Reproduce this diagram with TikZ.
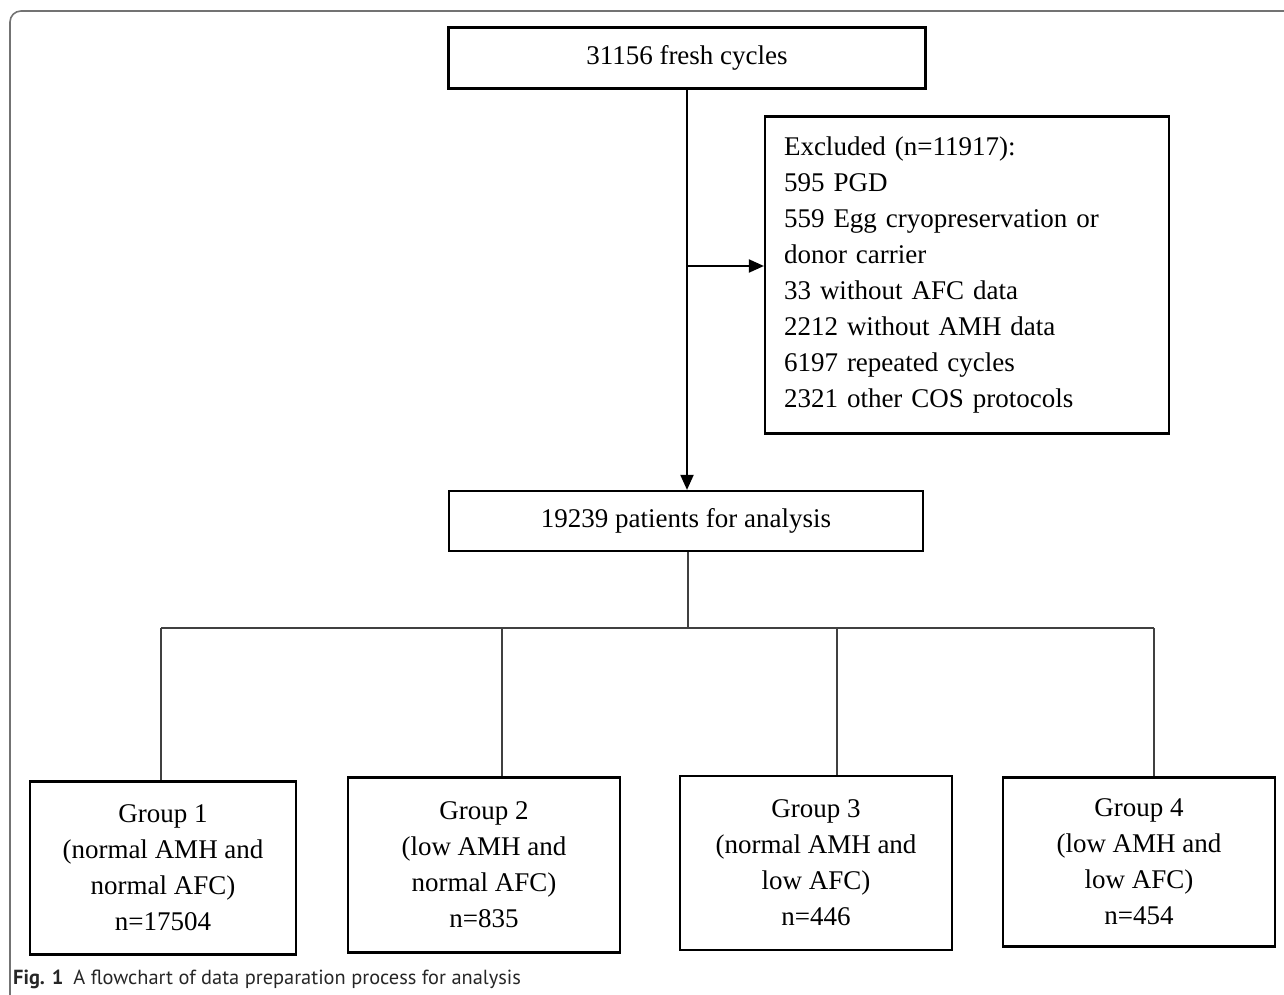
\documentclass[tikz,border=0pt]{standalone}
\usepackage{fontspec}
\setmainfont{Liberation Serif}
\setsansfont{PT Sans}
\usetikzlibrary{arrows.meta}
\begin{document}
\begin{tikzpicture}[
   x=1pt,y=-1pt,
   box/.style={draw,line width=2.2pt,align=center,inner sep=0pt,font=\fontsize{27}{36}\selectfont},
   group/.style={box,minimum width=272pt,minimum height=173pt},
   flow/.style={-{Triangle[length=15pt,width=13pt]},line width=2pt},
   tree/.style={draw=black!75,line width=1.3pt},
   frame/.style={draw=black!55,line width=1.6pt,rounded corners=11pt}]
\useasboundingbox (0,0) rectangle (1284,995);
\draw[frame] (1290,11) -- (10,11) -- (10,1001);
% main column
\node[box,minimum width=477pt,minimum height=61pt] (fresh) at (687,58) {31156 fresh cycles};
\node[box,minimum width=404pt,minimum height=317pt,text width=366pt,align=left] (excl) at (967,275)
  {Excluded (n=11917):\\595 PGD\\559 Egg cryopreservation or\\donor carrier\\33 without AFC data\\2212 without AMH data\\6197 repeated cycles\\2321 other COS protocols};
\node[box,minimum width=474pt,minimum height=60pt] (patients) at (686,521) {19239 patients for analysis};
% groups
\node[group,minimum width=266pt] (g1) at (163,868) {Group 1\\(normal AMH and\\normal AFC)\\n=17504};
\node[group,minimum height=175pt] (g2) at (484,865) {Group 2\\(low AMH and\\normal AFC)\\n=835};
\node[group,minimum height=174pt] (g3) at (816,863) {Group 3\\(normal AMH and\\low AFC)\\n=446};
\node[group,minimum height=169pt] (g4) at (1139,862) {Group 4\\(low AMH and\\low AFC)\\n=454};
\coordinate (split) at (687,266);
\coordinate (bus) at (688,628);
\coordinate (b1) at (161,628);
\coordinate (b2) at (502,628);
\coordinate (b3) at (837,628);
\coordinate (b4) at (1154,628);
\draw[flow] (fresh.south -| split) -- (patients.north -| split);
\draw[flow] (split) -- (excl.west |- split);
\draw[tree] (patients.south -| bus) -- (bus);
\draw[tree] (b1) -- (b4);
\draw[tree] (b1) -- (b1 |- g1.north);
\draw[tree] (b2) -- (b2 |- g2.north);
\draw[tree] (b3) -- (b3 |- g3.north);
\draw[tree] (b4) -- (b4 |- g4.north);
% caption
\node[anchor=base west,inner sep=0pt,text=black!85,font=\sffamily\fontsize{20.4}{24}\selectfont] (cap) at (13,984)
  {\textbf{Fig. 1}\hspace{10pt}A flowchart of data preparation process for analysis};
\end{tikzpicture}
\end{document}
